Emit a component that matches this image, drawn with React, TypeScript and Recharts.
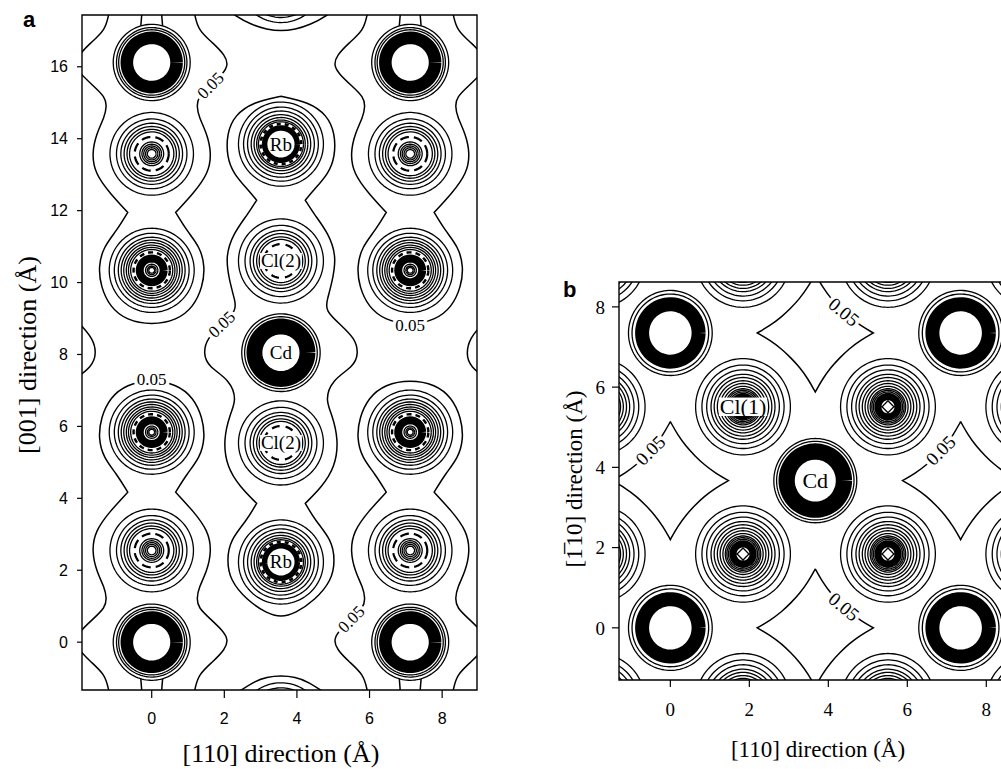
import React from 'react';
import { ComposedChart, Line, Scatter, XAxis, YAxis, ReferenceArea } from 'recharts';

type XY = [number, number];
type Pt = { x: number; y: number | null };

const SERIF = '"Liberation Serif", "Times New Roman", serif';
const SANS = '"Liberation Sans", Arial, sans-serif';

// ---------------- Panel a ----------------
const aXTicks = [0, 2, 4, 6, 8];
const aYTicks = [0, 2, 4, 6, 8, 10, 12, 14, 16];
const aXDomain: [number, number] = [-1.92, 8.96];
const aYDomain: [number, number] = [-1.33, 17.44];

const aCornerAtoms: XY[] = [[0, 0], [0, 16.12], [7.12, 0], [7.12, 16.12]];
const aTypeAAtoms: XY[] = [[0, 2.55], [0, 13.58], [7.12, 2.55], [7.12, 13.58]];
const aTypeBAtoms: XY[] = [[0, 5.84], [0, 10.34], [7.12, 5.84], [7.12, 10.34]];
const aRbAtoms: XY[] = [[3.56, 2.23], [3.56, 13.85], [3.56, -2.3], [3.56, 18.4]];
const aCl2Atoms: XY[] = [[3.56, 5.54], [3.56, 10.6]];
const aCdAtoms: XY[] = [[3.56, 8.05]];

const aCornerRadii = [1.06, 0.97, 0.91];
const aCornerRing = [0.685];
const aCdRadii = [1.08, 1.0];
const aCdRing = [0.73];
const aTypeARadii = [1.15, 0.97, 0.85, 0.76, 0.68, 0.61, 0.33, 0.27, 0.22, 0.17, 0.12];
const aTypeADash = [0.47];
const aTypeBRadii = [1.17, 1.03, 0.92, 0.84, 0.77, 0.7, 0.64, 0.58, 0.17, 0.12, 0.08];
const aTypeBDash = [0.5];
const aTypeBRing = [0.33];
const aRbRadii = [1.17, 1.03, 0.92, 0.82, 0.74, 0.67, 0.62];
const aRbDash = [0.56];
const aRbRing = [0.45];
const aCl2Radii = [1.17, 0.99, 0.85, 0.76, 0.67, 0.6];
const aCl2Dash = [0.47];

const K = (x: number, y: number): XY[] => [[x, y], [x, y], [x, y]];

// 0.05 contour: central chain
const aCentralChain: XY[] = [
  [3.56, 15.18], [2.8, 15.02], [2.29, 14.66], [2.07, 14.15], [2.07, 13.5], [2.25, 13.03], [2.66, 12.57], ...K(2.89, 12.29),
  [2.66, 11.92], [2.25, 11.37], [2.02, 10.71], [2.16, 9.97], [2.29, 9.51], [2.34, 9.23], [1.95, 8.85], [1.52, 8.45],
  [1.42, 8.03], [1.56, 7.66], [2.16, 7.29], [2.34, 6.73], [2.16, 6.36], [1.97, 5.62], [2.07, 4.87], [2.43, 4.32],
  ...K(2.89, 3.86), [2.62, 3.39], [2.16, 2.84], [2.07, 2.28], [2.16, 1.72], [2.62, 1.17], [3.17, 0.8], [3.56, 0.69],
  [3.95, 0.8], [4.5, 1.17], [4.96, 1.72], [5.05, 2.28], [4.96, 2.84], [4.5, 3.39], ...K(4.23, 3.86), [4.69, 4.32],
  [5.05, 4.87], [5.15, 5.62], [4.96, 6.36], [4.78, 6.73], [4.96, 7.29], [5.56, 7.66], [5.7, 8.03], [5.6, 8.45],
  [5.17, 8.85], [4.78, 9.23], [4.83, 9.51], [4.96, 9.97], [5.1, 10.71], [4.87, 11.37], [4.46, 11.92], ...K(4.23, 12.29),
  [4.46, 12.57], [4.87, 13.03], [5.05, 13.5], [5.05, 14.15], [4.83, 14.66], [4.32, 15.02], [3.56, 15.18],
];
// left column, upper chain
const aLeftUpper: XY[] = [
  [1.15, 17.6], [1.19, 17.44], [1.28, 17.02], [1.7, 16.65], [2.02, 16.32], [2.11, 16.05], [1.96, 15.8], [1.62, 15.48],
  [1.28, 15.16], [1.24, 14.9], [1.3, 14.6], [1.52, 14.15], [1.65, 13.59], [1.56, 13.03], [1.15, 12.48], ...K(0.66, 11.95),
  [0.96, 11.45], [1.33, 10.99], [1.47, 10.44], [1.4, 9.88], [1.15, 9.32], [0.69, 8.95], [0, 8.82], [-0.69, 8.95],
  [-1.15, 9.32], [-1.4, 9.88], [-1.47, 10.44], [-1.33, 10.99], [-0.96, 11.45], ...K(-0.66, 11.95), [-1.15, 12.48],
  [-1.56, 13.03], [-1.65, 13.59], [-1.52, 14.15], [-1.3, 14.6], [-1.24, 14.9], [-1.28, 15.16], [-1.62, 15.48],
  [-1.96, 15.8], [-2.11, 16.05], [-2.02, 16.32], [-1.7, 16.65], [-1.28, 17.02], [-1.19, 17.44], [-1.15, 17.6],
];
// left column, lower chain
const aLeftLower: XY[] = [
  [1.15, -1.48], [1.19, -1.32], [1.28, -0.9], [1.7, -0.53], [2.02, -0.2], [2.11, 0.07], [1.96, 0.32], [1.62, 0.64],
  [1.28, 0.96], [1.24, 1.22], [1.3, 1.52], [1.52, 1.97], [1.65, 2.53], [1.56, 3.09], [1.15, 3.64], ...K(0.66, 4.17),
  [0.96, 4.67], [1.33, 5.13], [1.47, 5.68], [1.4, 6.24], [1.15, 6.8], [0.69, 7.17], [0, 7.3], [-0.69, 7.17],
  [-1.15, 6.8], [-1.4, 6.24], [-1.47, 5.68], [-1.33, 5.13], [-0.96, 4.67], ...K(-0.66, 4.17), [-1.15, 3.64],
  [-1.56, 3.09], [-1.65, 2.53], [-1.52, 1.97], [-1.3, 1.52], [-1.24, 1.22], [-1.28, 0.96], [-1.62, 0.64],
  [-1.96, 0.32], [-2.11, 0.07], [-2.02, -0.2], [-1.7, -0.53], [-1.28, -0.9], [-1.19, -1.32], [-1.15, -1.48],
];
// right column, upper chain
const aRightUpper: XY[] = [
  [8.27, 17.6], [8.31, 17.44], [8.4, 17.02], [8.82, 16.65], [9.14, 16.32], [9.23, 16.05], [9.08, 15.8], [8.74, 15.48],
  [8.4, 15.16], [8.36, 14.9], [8.42, 14.6], [8.64, 14.15], [8.77, 13.59], [8.68, 13.03], [8.27, 12.48], ...K(7.78, 11.95),
  [8.08, 11.45], [8.45, 10.99], [8.59, 10.44], [8.52, 9.88], [8.27, 9.32], [7.81, 8.95], [7.12, 8.82], [6.43, 8.95],
  [5.97, 9.32], [5.72, 9.88], [5.65, 10.44], [5.79, 10.99], [6.16, 11.45], ...K(6.46, 11.95), [5.97, 12.48],
  [5.56, 13.03], [5.47, 13.59], [5.6, 14.15], [5.82, 14.6], [5.88, 14.9], [5.84, 15.16], [5.5, 15.48],
  [5.16, 15.8], [5.01, 16.05], [5.1, 16.32], [5.42, 16.65], [5.84, 17.02], [5.93, 17.44], [5.97, 17.6],
];
// right column, lower chain
const aRightLower: XY[] = [
  [8.27, -1.48], [8.31, -1.32], [8.4, -0.9], [8.82, -0.53], [9.14, -0.2], [9.23, 0.07], [9.08, 0.32], [8.74, 0.64],
  [8.4, 0.96], [8.36, 1.22], [8.42, 1.52], [8.64, 1.97], [8.77, 2.53], [8.68, 3.09], [8.27, 3.64], ...K(7.78, 4.17),
  [8.08, 4.67], [8.45, 5.13], [8.59, 5.68], [8.52, 6.24], [8.27, 6.8], [7.81, 7.17], [7.12, 7.3], [6.43, 7.17],
  [5.97, 6.8], [5.72, 6.24], [5.65, 5.68], [5.79, 5.13], [6.16, 4.67], ...K(6.46, 4.17), [5.97, 3.64],
  [5.56, 3.09], [5.47, 2.53], [5.6, 1.97], [5.82, 1.52], [5.88, 1.22], [5.84, 0.96], [5.5, 0.64],
  [5.16, 0.32], [5.01, 0.07], [5.1, -0.2], [5.42, -0.53], [5.84, -0.9], [5.93, -1.32], [5.97, -1.48],
];
const aEdgeLeft: XY[] = [[-2.34, 9.23], [-1.98, 8.85], [-1.62, 8.45], [-1.52, 8.03], [-1.64, 7.66], [-2.16, 7.29]];
const aEdgeRight: XY[] = [[9.46, 9.23], [9.1, 8.85], [8.76, 8.45], [8.66, 8.03], [8.76, 7.66], [9.28, 7.29]];
const aEdgeTop: XY[] = [[1.95, 17.7], [2.29, 17.42], [2.75, 17.17], [3.17, 17.04], [3.56, 16.99], [3.95, 17.04], [4.37, 17.17], [4.83, 17.42], [5.17, 17.7]];
const aEdgeBottom: XY[] = [[1.95, -1.7], [2.29, -1.45], [2.8, -1.1], [3.17, -0.97], [3.56, -0.93], [3.95, -0.97], [4.32, -1.1], [4.83, -1.45], [5.17, -1.7]];
const aPinchLines: XY[][] = [
  [[-0.3, 17.14], [-0.27, 17.5]], [[0.3, 17.14], [0.27, 17.5]],
  [[6.82, 17.14], [6.85, 17.5]], [[7.42, 17.14], [7.39, 17.5]],
  [[-0.3, -1.02], [-0.27, -1.4]], [[0.3, -1.02], [0.27, -1.4]],
  [[6.82, -1.02], [6.85, -1.4]], [[7.42, -1.02], [7.39, -1.4]],
];

const aAtomLabels = [
  { x: 3.56, y: 13.85, t: 'Rb' },
  { x: 3.56, y: 2.23, t: 'Rb' },
  { x: 3.56, y: 10.6, t: 'Cl(2)' },
  { x: 3.56, y: 5.54, t: 'Cl(2)' },
  { x: 3.56, y: 8.05, t: 'Cd' },
];
const aLevelLabels = [
  { x: 1.62, y: 15.48, t: '0.05', a: -45 },
  { x: 1.93, y: 8.84, t: '0.05', a: -44 },
  { x: 0, y: 7.3, t: '0.05', a: 0 },
  { x: 7.12, y: 8.82, t: '0.05', a: 0 },
  { x: 5.5, y: 0.64, t: '0.05', a: -45 },
];

// ---------------- Panel b ----------------
const bXTicks = [0, 2, 4, 6, 8];
const bYTicks = [0, 2, 4, 6, 8];
const bXDomain: [number, number] = [-1.3, 8.6];
const bYDomain: [number, number] = [-1.3, 8.62];

const bCdCorner: XY[] = [[0, 0], [7.35, 0], [0, 7.35], [7.35, 7.35]];
const bCdCenter: XY[] = [[3.67, 3.67]];
const bCl1Atoms: XY[] = [
  [1.84, 1.84], [5.51, 1.84], [1.84, 5.51], [5.51, 5.51],
  [-1.84, 1.84], [-1.84, 5.51], [9.19, 1.84], [9.19, 5.51],
  [1.84, -1.84], [5.51, -1.84], [1.84, 9.19], [5.51, 9.19],
  [-1.84, -1.84], [9.19, -1.84], [-1.84, 9.19], [9.19, 9.19],
];
const bCdCornerRadii = [1.06, 0.97];
const bCdCornerRing = [0.715];
const bCdCenterRadii = [1.05, 0.98];
const bCdCenterRing = [0.725];
const bCl1Radii = [1.2, 1.04, 0.92, 0.81, 0.73, 0.65, 0.58, 0.51, 0.45, 0.41, 0.37, 0.33, 0.3, 0.27, 0.24, 0.21, 0.18];
const bCl1Diamond = [0.15];

const bStarTop: XY[] = [
  ...K(3.67, 8.82), [3.85, 8.5], [4.07, 8.2], [4.29, 7.97], [4.52, 7.75], [4.82, 7.53], ...K(5.14, 7.35),
  [4.82, 7.17], [4.52, 6.95], [4.29, 6.73], [4.07, 6.5], [3.85, 6.2], ...K(3.67, 5.88),
  [3.49, 6.2], [3.27, 6.5], [3.05, 6.73], [2.82, 6.95], [2.52, 7.17], ...K(2.2, 7.35),
  [2.52, 7.53], [2.82, 7.75], [3.05, 7.97], [3.27, 8.2], [3.49, 8.5], ...K(3.67, 8.82),
];
const bStarBottom: XY[] = [
  ...K(3.67, 1.47), [3.85, 1.15], [4.07, 0.85], [4.29, 0.62], [4.52, 0.4], [4.82, 0.18], ...K(5.14, 0),
  [4.82, -0.18], [4.52, -0.4], [4.29, -0.62], [4.07, -0.85], [3.85, -1.15], ...K(3.67, -1.47),
  [3.49, -1.15], [3.27, -0.85], [3.05, -0.62], [2.82, -0.4], [2.52, -0.18], ...K(2.2, 0),
  [2.52, 0.18], [2.82, 0.4], [3.05, 0.62], [3.27, 0.85], [3.49, 1.15], ...K(3.67, 1.47),
];
const bStarLeft: XY[] = [
  ...K(0, 5.14), [0.18, 4.82], [0.4, 4.52], [0.62, 4.29], [0.85, 4.07], [1.15, 3.85], ...K(1.47, 3.67),
  [1.15, 3.49], [0.85, 3.27], [0.62, 3.05], [0.4, 2.82], [0.18, 2.52], ...K(0, 2.2),
  [-0.18, 2.52], [-0.4, 2.82], [-0.62, 3.05], [-0.85, 3.27], [-1.15, 3.49], ...K(-1.47, 3.67),
  [-1.15, 3.85], [-0.85, 4.07], [-0.62, 4.29], [-0.4, 4.52], [-0.18, 4.82], ...K(0, 5.14),
];
const bStarRight: XY[] = [
  ...K(7.35, 5.14), [7.53, 4.82], [7.75, 4.52], [7.97, 4.29], [8.2, 4.07], [8.5, 3.85], ...K(8.82, 3.67),
  [8.5, 3.49], [8.2, 3.27], [7.97, 3.05], [7.75, 2.82], [7.53, 2.52], ...K(7.35, 2.2),
  [7.17, 2.52], [6.95, 2.82], [6.73, 3.05], [6.5, 3.27], [6.2, 3.49], ...K(5.88, 3.67),
  [6.2, 3.85], [6.5, 4.07], [6.73, 4.29], [6.95, 4.52], [7.17, 4.82], ...K(7.35, 5.14),
];

const bAtomLabels = [
  { x: 1.84, y: 5.51, t: 'Cl(1)' },
  { x: 3.67, y: 3.67, t: 'Cd' },
];
const bLevelLabels = [
  { x: 4.39, y: 7.87, t: '0.05', a: 40 },
  { x: 4.39, y: 0.52, t: '0.05', a: 40 },
  { x: -0.5, y: 4.42, t: '0.05', a: -45 },
  { x: 6.85, y: 4.42, t: '0.05', a: -45 },
];

// ---------------- helpers ----------------
function circle(cx: number, cy: number, r: number): Pt[] {
  const n = Math.max(32, Math.round(r * 110));
  const pts: Pt[] = [];
  for (let i = 0; i <= n; i++) {
    const t = (i / n) * Math.PI * 2;
    pts.push({ x: cx + r * Math.cos(t), y: cy + r * Math.sin(t) });
  }
  pts.push({ x: cx, y: null });
  return pts;
}
function rings(atoms: XY[], radii: number[]): Pt[] {
  return atoms.flatMap(([x, y]) => radii.flatMap((r) => circle(x, y, r)));
}
function diamonds(atoms: XY[], sizes: number[]): Pt[] {
  return atoms.flatMap(([x, y]) =>
    sizes.flatMap((d) => [
      { x, y: y + d }, { x: x + d, y }, { x, y: y - d }, { x: x - d, y }, { x, y: y + d }, { x, y: null },
    ]),
  );
}
function paths(curves: XY[][]): Pt[] {
  return curves.flatMap((c) => [...c.map(([x, y]) => ({ x, y } as Pt)), { x: c[0][0], y: null }]);
}

function lineEl(key: string, data: Pt[], w: number, type: any = 'linear', dash?: string) {
  return (
    <Line
      key={key}
      data={data}
      dataKey="y"
      type={type}
      stroke="#000"
      strokeWidth={w}
      strokeDasharray={dash}
      dot={false}
      activeDot={false}
      connectNulls={false}
      isAnimationActive={false}
      legendType="none"
    />
  );
}

const levelShape = (fs: number) => (props: any) => {
  const { cx, cy, payload } = props;
  return (
    <text
      x={cx}
      y={cy}
      dy="0.33em"
      transform={`rotate(${payload.a} ${cx} ${cy})`}
      textAnchor="middle"
      fontFamily={SERIF}
      fontSize={fs}
      fill="#000"
      stroke="#fff"
      strokeWidth={7}
      strokeLinejoin="round"
      paintOrder="stroke"
    >
      {payload.t}
    </text>
  );
};

const atomShape = (fs: number) => (props: any) => {
  const { cx, cy, payload } = props;
  const bg = payload.t !== 'Cd';
  const w = payload.t.length * fs * 0.44;
  return (
    <g>
      {bg && <rect x={cx - w / 2} y={cy - fs * 0.42} width={w} height={fs * 0.84} fill="#fff" />}
      <text x={cx} y={cy} dy="0.34em" textAnchor="middle" fontFamily={SERIF} fontSize={fs} fill="#000">
        {payload.t}
      </text>
    </g>
  );
};

const textDiv = (txt: string, left: number, top: number, fs: number, rotate = false) => (
  <div
    style={{
      position: 'absolute',
      left,
      top,
      transform: `translate(-50%, -50%)${rotate ? ' rotate(-90deg)' : ''}`,
      fontFamily: SERIF,
      fontSize: fs,
      whiteSpace: 'nowrap',
      color: '#000',
      lineHeight: 'normal',
    }}
  >
    {txt}
  </div>
);

export default function App() {
  const aThin = [
    ...rings(aCornerAtoms, aCornerRadii),
    ...rings(aCdAtoms, aCdRadii),
    ...rings(aTypeAAtoms, aTypeARadii),
    ...rings(aTypeBAtoms, aTypeBRadii),
    ...rings(aRbAtoms, aRbRadii),
    ...rings(aCl2Atoms, aCl2Radii),
  ];
  const aContours = paths([aCentralChain, aLeftUpper, aLeftLower, aRightUpper, aRightLower, aEdgeLeft, aEdgeRight, aEdgeTop, aEdgeBottom]);

  const bThin = [
    ...rings(bCdCorner, bCdCornerRadii),
    ...rings(bCdCenter, bCdCenterRadii),
    ...rings(bCl1Atoms, bCl1Radii),
    ...diamonds(bCl1Atoms, bCl1Diamond),
  ];
  const bStars = paths([bStarTop, bStarBottom, bStarLeft, bStarRight]);

  const aTick = { fill: '#000', fontSize: 16, fontFamily: SANS };
  const bTick = { fill: '#000', fontSize: 19, fontFamily: SERIF };

  return (
    <div style={{ position: 'absolute', left: 0, top: 0, width: 1001, height: 769, overflow: 'hidden', background: '#fff' }}>
      <div style={{ position: 'absolute', left: 0, top: 0 }}>
        <ComposedChart width={490} height={769} margin={{ top: 15, right: 13, bottom: 0, left: 0 }}>
          <XAxis type="number" dataKey="x" domain={aXDomain} allowDataOverflow ticks={aXTicks} interval={0} height={79}
            tickSize={8} tickMargin={15} tick={aTick} axisLine={false} tickLine={{ stroke: '#000', strokeWidth: 1.2 }} />
          <YAxis type="number" dataKey="y" domain={aYDomain} allowDataOverflow ticks={aYTicks} interval={0} width={82}
            tickSize={5} tickMargin={9} tick={aTick} axisLine={false} tickLine={{ stroke: '#000', strokeWidth: 1.2 }} />
          {lineEl('a-thin', aThin, 1.3)}
          {lineEl('a-corner-ring', rings(aCornerAtoms, aCornerRing), 12.6)}
          {lineEl('a-cd-ring', rings(aCdAtoms, aCdRing), 15.9)}
          {lineEl('a-b-ring', rings(aTypeBAtoms, aTypeBRing), 8)}
          {lineEl('a-rb-ring', rings(aRbAtoms, aRbRing), 5.5)}
          {lineEl('a-a-dash', rings(aTypeAAtoms, aTypeADash), 2.2, 'linear', '9 5')}
          {lineEl('a-b-dash', rings(aTypeBAtoms, aTypeBDash), 2.4, 'linear', '5 4')}
          {lineEl('a-rb-dash', rings(aRbAtoms, aRbDash), 2.6, 'linear', '4 4')}
          {lineEl('a-cl-dash', rings(aCl2Atoms, aCl2Dash), 2.2, 'linear', '8 6')}
          {lineEl('a-contours', aContours, 1.5, 'basis')}
          {lineEl('a-pinch', paths(aPinchLines), 1.5)}
          <ReferenceArea x1={aXDomain[0]} x2={aXDomain[1]} y1={aYDomain[0]} y2={aYDomain[1]} fill="none" stroke="#000" strokeWidth={1.4} ifOverflow="visible" />
          <Scatter data={aAtomLabels} shape={atomShape(19)} isAnimationActive={false} legendType="none" />
          <Scatter data={aLevelLabels} shape={levelShape(17)} isAnimationActive={false} legendType="none" />
        </ComposedChart>
      </div>

      <div style={{ position: 'absolute', left: 539, top: 260 }}>
        <ComposedChart width={472} height={480} margin={{ top: 22, right: 1, bottom: 0, left: 0 }}>
          <XAxis type="number" dataKey="x" domain={bXDomain} allowDataOverflow ticks={bXTicks} interval={0} height={60}
            tickSize={7} tickMargin={16} tick={bTick} axisLine={false} tickLine={{ stroke: '#000', strokeWidth: 1.2 }} />
          <YAxis type="number" dataKey="y" domain={bYDomain} allowDataOverflow ticks={bYTicks} interval={0} width={80}
            tickSize={7} tickMargin={7} tick={bTick} axisLine={false} tickLine={{ stroke: '#000', strokeWidth: 1.2 }} />
          {lineEl('b-thin', bThin, 1.3)}
          {lineEl('b-corner-ring', rings(bCdCorner, bCdCornerRing), 14)}
          {lineEl('b-center-ring', rings(bCdCenter, bCdCenterRing), 16.3)}
          {lineEl('b-stars', bStars, 1.5, 'basis')}
          <ReferenceArea x1={bXDomain[0]} x2={bXDomain[1]} y1={bYDomain[0]} y2={bYDomain[1]} fill="none" stroke="#000" strokeWidth={1.4} ifOverflow="visible" />
          <Scatter data={bAtomLabels} shape={atomShape(22)} isAnimationActive={false} legendType="none" />
          <Scatter data={bLevelLabels} shape={levelShape(19)} isAnimationActive={false} legendType="none" />
        </ComposedChart>
      </div>

      {textDiv('[110] direction (Å)', 281, 754, 26)}
      {textDiv('[001] direction (Å)', 28, 355, 26, true)}
      {textDiv('[110] direction (Å)', 818, 750, 23)}
      {textDiv('[1\u0305\u200a10] direction (Å)', 575, 479, 23, true)}
      <div style={{ position: 'absolute', left: 23, top: 9, fontFamily: SANS, fontWeight: 700, fontSize: 22, lineHeight: 1 }}>a</div>
      <div style={{ position: 'absolute', left: 563, top: 279, fontFamily: SANS, fontWeight: 700, fontSize: 22, lineHeight: 1 }}>b</div>
    </div>
  );
}
